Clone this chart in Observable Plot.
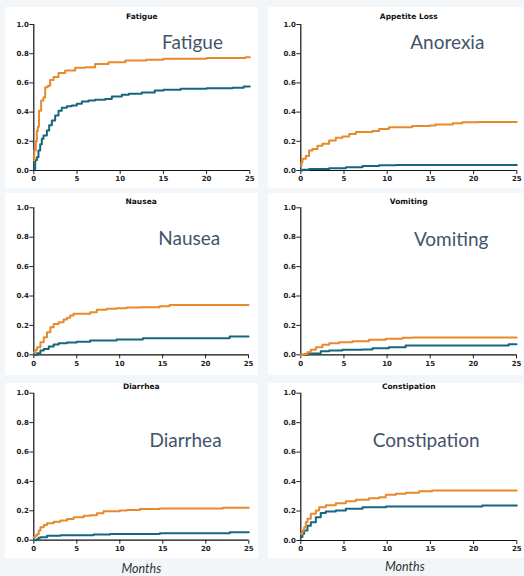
<!DOCTYPE html>
<html><head><meta charset="utf-8">
<script src="https://cdn.jsdelivr.net/npm/d3@7"></script>
<script src="https://cdn.jsdelivr.net/npm/@observablehq/plot@0.6"></script>
<style>
html,body{margin:0;padding:0;background:#f3f6f9;}
#root{position:relative;width:524px;height:576px;overflow:hidden;}
.bg{position:absolute;background:#fff;}
.p{position:absolute;}
.p svg{overflow:visible;}
</style></head><body><div id="root"></div>
<script>
const xTicks = [0, 5, 10, 15, 20, 25];
const yTicks = [0, 0.2, 0.4, 0.6, 0.8, 1.0];
const panelTitles = ["Fatigue", "Appetite Loss", "Nausea", "Vomiting", "Diarrhea", "Constipation"];
const panelLabels = ["Fatigue", "Anorexia", "Nausea", "Vomiting", "Diarrhea", "Constipation"];
const xAxisLabel = "Months";

const fatigueOrange = [[0,0.07],[0.05,0.137],[0.23,0.2],[0.35,0.27],[0.47,0.3],[0.6,0.41],[0.85,0.48],[1.12,0.5],[1.32,0.57],[1.62,0.58],[1.89,0.62],[2.28,0.64],[2.86,0.667],[3.63,0.685],[4.79,0.703],[5.95,0.708],[7.1,0.73],[8.65,0.742],[10.6,0.753],[13,0.758],[15,0.765],[20,0.77],[24.5,0.776],[25,0.776]];
const fatigueTeal = [[0,0.01],[0.16,0.07],[0.35,0.09],[0.54,0.137],[0.74,0.18],[0.93,0.217],[1.12,0.24],[1.51,0.274],[1.78,0.31],[2.09,0.342],[2.47,0.377],[2.86,0.41],[3.24,0.43],[3.82,0.44],[4.4,0.445],[4.98,0.457],[5.56,0.473],[6.33,0.48],[7.1,0.484],[8.26,0.49],[9.03,0.507],[10.2,0.518],[11,0.525],[12.5,0.535],[14,0.548],[15,0.553],[17,0.56],[20,0.564],[23,0.566],[24.3,0.575],[25,0.575]];

const anorexiaOrange = [[0,0.03],[0.08,0.057],[0.19,0.08],[0.58,0.1],[0.96,0.137],[1.35,0.148],[1.93,0.17],[2.5,0.183],[3.28,0.205],[4.05,0.224],[4.82,0.233],[5.6,0.25],[6.37,0.263],[8.3,0.27],[9.07,0.285],[10.2,0.297],[12.9,0.304],[14.9,0.308],[15.6,0.315],[17.6,0.324],[18.7,0.331],[20.6,0.333],[25,0.333]];
const anorexiaTeal = [[0,0],[0.19,0.005],[0.96,0.01],[3.28,0.016],[5.21,0.023],[7.14,0.03],[9.07,0.036],[11,0.038],[25,0.038]];

const nauseaOrange = [[0,0.018],[0.19,0.034],[0.39,0.052],[0.77,0.086],[1.16,0.12],[1.54,0.154],[1.93,0.188],[2.31,0.21],[2.89,0.222],[3.47,0.24],[3.86,0.252],[4.24,0.268],[4.63,0.279],[6.56,0.29],[7.33,0.306],[8.49,0.313],[9.65,0.317],[10.8,0.322],[12.35,0.324],[14.66,0.331],[15.8,0.338],[25,0.338]];
const nauseaTeal = [[0,0],[0.39,0.011],[0.77,0.03],[1.16,0.04],[1.74,0.057],[2.31,0.07],[2.89,0.079],[3.86,0.084],[5.0,0.088],[6.56,0.098],[9.65,0.104],[12.7,0.113],[22.8,0.125],[25,0.125]];

const vomitingOrange = [[0,0],[0.39,0.005],[0.77,0.018],[1.16,0.034],[1.74,0.052],[2.5,0.068],[3.3,0.079],[4.44,0.086],[5.98,0.093],[7.9,0.102],[9.84,0.109],[11.8,0.116],[13,0.118],[25,0.118]];
const vomitingTeal = [[0,0],[0.77,0.009],[2.31,0.025],[3.28,0.03],[4.82,0.034],[7.14,0.036],[8.3,0.045],[10.2,0.052],[12.15,0.063],[24.1,0.072],[25,0.072]];

const diarrheaOrange = [[0,0.02],[0.19,0.032],[0.39,0.043],[0.58,0.066],[0.77,0.088],[1.16,0.104],[1.54,0.116],[2.31,0.125],[3.09,0.134],[3.86,0.145],[4.63,0.156],[5.79,0.166],[6.56,0.17],[7.33,0.184],[8.1,0.197],[10,0.202],[10.8,0.206],[12.35,0.213],[14.66,0.215],[22,0.22],[25,0.22]];
const diarrheaTeal = [[0,0],[0.39,0.009],[0.58,0.016],[0.77,0.02],[1.54,0.03],[3.09,0.034],[6.94,0.039],[8.87,0.043],[14.66,0.048],[22.8,0.054],[25,0.054]];

const constipationOrange = [[0,0.045],[0.19,0.068],[0.39,0.09],[0.58,0.124],[0.77,0.147],[1.16,0.181],[1.74,0.204],[2.12,0.226],[2.89,0.24],[4.05,0.253],[5.21,0.267],[6.37,0.276],[7.9,0.287],[9.07,0.294],[9.84,0.31],[11,0.317],[12.15,0.324],[13.7,0.335],[15.2,0.339],[25,0.339]];
const constipationTeal = [[0,0.023],[0.19,0.045],[0.39,0.068],[0.77,0.1],[1.16,0.124],[1.74,0.158],[2.31,0.186],[2.89,0.197],[4.05,0.204],[5.21,0.215],[7.14,0.226],[9.84,0.231],[21,0.238],[25,0.238]];

const ORANGE = "#e8892b";
const TEAL = "#17667f";
const LABEL_COLOR = "#44546a";

const root = document.getElementById("root");

// white panel backgrounds
[[5,7,253,181],[268,7,255,181],[5,193,253,182],[268,193,255,182],[5,383,253,175],[268,383,255,175]].forEach(([l,t,w,h]) => {
  const d = document.createElement("div");
  d.className = "bg";
  Object.assign(d.style, {left: l+"px", top: t+"px", width: w+"px", height: h+"px"});
  root.appendChild(d);
});

const panels = [
  {i:0, a:fatigueOrange, b:fatigueTeal, left:0, top:0, h:190, mt:24, mb:20, ml:33.3, mr:12.7, tdy:-8, ldx:-57.3, ldy:18},
  {i:1, a:anorexiaOrange, b:anorexiaTeal, left:262, top:0, h:190, mt:24, mb:20, ml:38.3, mr:7.7, tdy:-8, ldx:-69.5, ldy:18},
  {i:2, a:nauseaOrange, b:nauseaTeal, left:0, top:190, h:190, mt:17.3, mb:25.7, ml:33.3, mr:14, tdy:-6.6, ldx:-59.3, ldy:31},
  {i:3, a:vomitingOrange, b:vomitingTeal, left:262, top:190, h:190, mt:17.3, mb:25.7, ml:38.3, mr:8, tdy:-6.3, ldx:-65.3, ldy:31.7},
  {i:4, a:diarrheaOrange, b:diarrheaTeal, left:0, top:380, h:196, mt:12.7, mb:36.3, ml:33.3, mr:13.7, tdy:-6.7, ldx:-63.3, ldy:47.3, months:{dx:0, dy:28.8}},
  {i:5, a:constipationOrange, b:constipationTeal, left:262, top:380, h:196, mt:12.7, mb:36, ml:38.3, mr:7.7, tdy:-6.7, ldx:-90.6, ldy:47.3, months:{dx:-4, dy:26.5}}
];

for (const p of panels) {
  const marks = [
    Plot.ruleX([0], {stroke: "#111", strokeWidth: 1.2}),
    Plot.ruleY([0], {stroke: "#111", strokeWidth: 1.2}),
    Plot.line(p.b, {x: d => d[0], y: d => d[1], curve: "step-after", stroke: TEAL, strokeWidth: 2}),
    Plot.line(p.a, {x: d => d[0], y: d => d[1], curve: "step-after", stroke: ORANGE, strokeWidth: 2}),
    Plot.text([panelTitles[p.i]], {frameAnchor: "top", dy: p.tdy, textAnchor: "middle", lineAnchor: "middle", fontWeight: "bold", fontSize: 7.5, fill: "#111"}),
    Plot.text([panelLabels[p.i]], {frameAnchor: "top-right", dx: p.ldx, dy: p.ldy, textAnchor: "middle", lineAnchor: "middle", fontSize: 19, fontWeight: "normal", fill: LABEL_COLOR, fontFamily: "Lato"})
  ];
  if (p.months) {
    marks.push(Plot.text([xAxisLabel], {frameAnchor: "bottom", dx: p.months.dx, dy: p.months.dy, textAnchor: "middle", lineAnchor: "middle", fontSize: 12.5, fontWeight: "normal", fontStyle: "italic", fill: "#333", fontFamily: "Lato"}));
  }
  const chart = Plot.plot({
    width: 262, height: p.h,
    marginTop: p.mt, marginBottom: p.mb, marginLeft: p.ml, marginRight: p.mr,
    style: {background: "none", fontFamily: "DejaVu Sans", fontSize: "7px", color: "#222", fontWeight: "bold"},
    x: {domain: [0, 25], ticks: xTicks, tickSize: 4, tickPadding: 2, label: null},
    y: {domain: [0, 1], ticks: yTicks, tickFormat: ".1f", tickSize: 4, tickPadding: 1, label: null},
    marks
  });
  const wrap = document.createElement("div");
  wrap.className = "p";
  wrap.style.left = p.left + "px";
  wrap.style.top = p.top + "px";
  wrap.appendChild(chart);
  root.appendChild(wrap);
}
</script></body></html>
